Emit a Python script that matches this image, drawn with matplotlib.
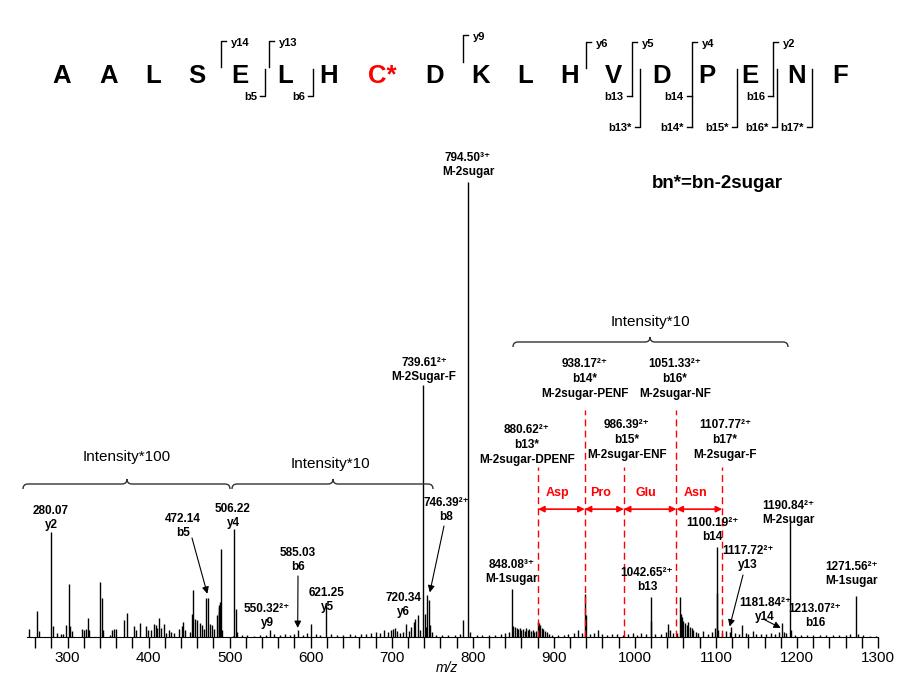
import matplotlib
matplotlib.use('Agg')
import matplotlib.pyplot as plt
from matplotlib.path import Path
from matplotlib.patches import PathPatch
from matplotlib.ticker import MultipleLocator

plt.rcParams['font.family'] = ['Liberation Sans', 'DejaVu Sans']

# ---- spectrum data (m/z, relative intensity in % of base peak) ----
mz = [252, 262.5, 265, 280, 282, 287, 292, 295, 298, 301.6, 303, 305,
      317.7, 319.8, 323, 324.7, 327, 339.5, 342, 343.6, 352.6, 355, 357.6, 360,
      370, 372.8, 381.8, 384.7, 390, 397, 399.6, 402.5, 406.6, 408.6, 410.7,
      413, 415.6, 418.5, 421.8, 425, 428, 431, 438, 440.7, 443, 445, 450.6,
      453.5, 455, 457.6, 460, 463, 465.4, 468, 471, 473.7, 475.7, 478, 481,
      484.3, 486.4, 487, 487.5, 488, 489, 490, 504, 506, 507.4, 509,
      515, 522, 530, 537, 545, 549.5, 555, 562, 568, 574, 579, 584, 590, 595,
      600, 607, 612, 619.5, 625, 632, 640, 648, 655, 662, 668, 675, 680, 686,
      691, 695, 699, 701.6, 704.5, 707, 710, 714, 718, 721, 724, 727, 729,
      732.5, 735, 738.7, 740.7, 742.8, 744, 746, 747.7, 750, 755, 762, 770,
      778, 784, 788, 794.5, 796,
      805, 812, 820, 828, 835, 840, 845, 848.5, 850, 852, 854, 856, 858, 860,
      862, 864, 866, 868, 870, 872, 874, 876, 878, 880, 881.5, 883, 885, 887,
      889, 891, 894, 898, 905, 912, 918, 925, 930, 935, 938.3, 939.5, 945,
      950, 954.7, 960, 966, 972, 978, 985, 992, 998, 1003, 1008, 1014,
      1019.5, 1020.5, 1025, 1032, 1038, 1041, 1043, 1047, 1052, 1055.6, 1057,
      1058.5, 1060, 1062, 1064, 1066, 1068, 1070, 1072, 1075, 1078, 1084,
      1090, 1095, 1098.8, 1100.8, 1101.8, 1103, 1107, 1113, 1117, 1119, 1124,
      1128, 1132, 1137, 1140, 1145.6, 1150, 1156, 1162, 1168, 1173, 1178,
      1182, 1184, 1187, 1191.4, 1193, 1198, 1205, 1212, 1220, 1228, 1236,
      1245, 1252, 1260, 1266, 1272.8, 1275, 1282, 1290, 1297]
intensity = [1.8, 5.7, 1.3, 23.1, 2.4, 0.9, 0.7, 0.7, 2.6, 11.6, 2.4, 1.3,
             1.8, 1.5, 1.8, 4.2, 1.5, 12.1, 8.6, 1.5, 0.4, 1.5, 1.8, 1.8,
             3.7, 5.3, 2.4, 1.5, 3.1, 2.4, 1.5, 1.5, 2.9, 2.6, 2.0,
             4.2, 2.0, 2.9, 0.9, 1.5, 1.1, 0.9, 1.8, 2.4, 3.3, 1.5, 1.1,
             5.1, 10.3, 4.0, 3.7, 3.1, 2.6, 1.8, 8.6, 8.6, 2.9, 2.6, 1.8,
             4.8, 5.5, 6.6, 7.0, 7.7, 19.3, 1.5, 0.3, 23.7, 6.2, 1.1,
             0.4, 0.5, 0.3, 0.4, 0.5, 1.5, 0.6, 0.4, 0.7, 0.5, 0.6, 1.5, 0.5, 0.8,
             2.9, 0.7, 0.5, 7.0, 0.6, 0.5, 0.4, 0.6, 0.5, 0.7, 0.6, 0.8, 1.0, 0.9,
             1.5, 1.1, 1.5, 1.8, 2.0, 1.3, 0.9, 1.1, 2.9, 1.3, 2.2, 3.3, 4.0,
             4.8, 1.5, 55.4, 5.1, 2.2, 9.2, 8.1, 2.6, 1.0, 0.5, 0.4, 0.5,
             0.4, 0.6, 3.7, 100, 1.0,
             0.4, 0.5, 0.4, 0.5, 0.6, 0.8, 1.0, 10.5, 2.5, 2.2, 2.0, 1.8, 2.0, 1.5,
             1.8, 1.3, 2.0, 1.5, 1.8, 1.3, 1.5, 1.0, 1.3, 3.3, 3.1, 2.6, 2.0, 1.8,
             1.3, 1.1, 0.7, 0.5, 0.4, 0.5, 0.6, 0.8, 1.5, 0.9, 9.5, 4.8, 0.6,
             0.8, 1.5, 0.6, 0.5, 0.7, 0.6, 0.5, 0.6, 0.8, 0.5, 0.9, 0.7,
             8.8, 3.5, 0.6, 0.7, 1.0, 2.9, 1.5, 0.8, 0.9, 8.8, 5.0,
             4.4, 3.5, 3.1, 2.6, 3.3, 2.2, 2.0, 1.5, 1.1, 0.8, 1.3,
             0.7, 1.0, 2.0, 19.8, 9.7, 1.5, 0.8, 1.3, 1.1, 2.2, 0.8,
             0.7, 2.6, 0.9, 0.7, 1.3, 0.6, 0.7, 0.6, 0.8, 0.6, 1.0,
             3.1, 1.2, 0.8, 25.3, 1.5, 0.5, 0.4, 0.5, 0.4, 0.4, 0.5,
             0.4, 0.4, 0.5, 0.6, 9.0, 0.7, 0.4, 0.3, 0.3]

# peak labels (text, centre x px, centre y px)
peak_labels = ['280.07\ny2', '472.14\nb5', '506.22\ny4', '585.03\nb6',
               '550.32\u00b2\u207a\ny9', '621.25\ny5', '720.34\ny6',
               '746.39\u00b2\u207a\nb8', '739.61\u00b2\u207a\nM-2Sugar-F',
               '794.50\u00b3\u207a\nM-2sugar', '848.08\u00b3\u207a\nM-1sugar',
               '880.62\u00b2\u207a\nb13*\nM-2sugar-DPENF',
               '938.17\u00b2\u207a\nb14*\nM-2sugar-PENF',
               '1051.33\u00b2\u207a\nb16*\nM-2sugar-NF',
               '986.39\u00b2\u207a\nb15*\nM-2sugar-ENF',
               '1107.77\u00b2\u207a\nb17*\nM-2sugar-F',
               '1042.65\u00b2\u207a\nb13', '1100.19\u00b2\u207a\nb14',
               '1117.72\u00b2\u207a\ny13', '1181.84\u00b2\u207a\ny14',
               '1190.84\u00b2\u207a\nM-2sugar', '1213.07\u00b2\u207a\nb16',
               '1271.56\u00b2\u207a\nM-1sugar']
label_x = [51, 183, 233, 298, 267, 327, 403, 446, 424, 468, 512, 527, 585,
           675, 627, 725, 647, 712, 748, 765, 788, 815, 852]
label_y = [518, 526, 516, 560, 616, 600, 605, 510, 370, 165, 572, 445, 379,
           379, 440, 440, 580, 530, 558, 610, 513, 616, 574]

# black arrows: start (px) -> peak (m/z, %)
arrow_start = [(192, 538), (298, 576), (444, 526), (743, 575), (765, 620)]
arrow_tip = [(472.5, 9.5), (584, 2.0), (747, 9.8), (1117, 2.3), (1180, 2.0)]

# residue losses between b* ions
loss_mz = [880.62, 938.17, 986.39, 1051.33, 1107.77]
loss_top = [37.4, 49.9, 37.4, 49.9, 37.4]
loss_names = ['Asp', 'Pro', 'Glu', 'Asn']

# sequence
residues = ['A', 'A', 'L', 'S', 'E', 'L', 'H', 'C*', 'D', 'K', 'L', 'H', 'V',
            'D', 'P', 'E', 'N', 'F']
residue_x = [62, 109, 153, 197, 240, 285, 329, 382, 435, 481, 525, 570, 613,
             662, 707, 750, 797, 840]
y_ions = ['y14', 'y13', 'y9', 'y6', 'y5', 'y4', 'y2']
y_ion_x = [221, 269, 462.5, 585.7, 631.7, 691.5, 773.3]
y_ion_top = [41, 41, 35, 42, 42, 42, 42]
y_ion_bottom = [67, 67, 62, 68, 96, 127, 96]
b_ions = ['b5', 'b6', 'b13', 'b13*', 'b14', 'b14*', 'b15*', 'b16', 'b16*', 'b17*']
b_ion_x = [265, 312.7, 631.7, 640, 691.5, 691.5, 736.7, 773.3, 776.7, 811.7]
b_ion_top = [69, 69, 96, 69, 96, 127, 69, 96, 69, 69]
b_ion_bottom = [96, 96, 96, 127, 96, 127, 127, 96, 127, 127]

fig = plt.figure(figsize=(9.18, 6.78), dpi=100)
ax = fig.add_axes([27 / 918, 41 / 678, 851 / 918, 455 / 678])
ax.vlines(mz, 0, intensity, color='black', lw=1.0)
ax.set_xlim(250, 1300)
ax.set_ylim(0, 100)
for s in ['left', 'top', 'right']:
    ax.spines[s].set_visible(False)
ax.set_yticks([])
ax.xaxis.set_major_locator(MultipleLocator(100))
ax.xaxis.set_minor_locator(MultipleLocator(20))
ax.tick_params(axis='x', which='both', direction='out', length=8, width=1,
               labelsize=11, pad=2)
ax.patch.set_alpha(0)

# red dashed lines and arrows
for x, t in zip(loss_mz, loss_top):
    ax.plot([x, x], [0, t], color='red', lw=1, ls=(0, (5, 3)), clip_on=False)
for i, name in enumerate(loss_names):
    ax.annotate('', xy=(loss_mz[i + 1], 28.1), xytext=(loss_mz[i], 28.1),
                arrowprops=dict(arrowstyle='<|-|>', color='red', lw=1.2,
                                mutation_scale=9, shrinkA=0, shrinkB=0))
    ax.text((loss_mz[i] + loss_mz[i + 1]) / 2 - 5, 31.6, name, color='red',
            ha='center', va='center', fontsize=9, fontweight='bold')

# overlay in pixel coordinates for annotations
ov = fig.add_axes([0, 0, 1, 1])
ov.set_xlim(0, 918)
ov.set_ylim(678, 0)
ov.axis('off')
ov.patch.set_alpha(0)

for t, x, y in zip(peak_labels, label_x, label_y):
    ov.text(x, y, t, ha='center', va='center', fontsize=8.5,
            fontweight='bold', linespacing=1.3)

for s, tip in zip(arrow_start, arrow_tip):
    ax.annotate('', xy=tip, xycoords='data', xytext=s, textcoords=ov.transData,
                arrowprops=dict(arrowstyle='-|>', color='black', lw=0.8,
                                mutation_scale=10, shrinkA=0, shrinkB=0))


def brace(x0, x1, xm, y, h):
    verts = [(x0, y + h), (x0, y), (x0 + h, y), (xm - h, y), (xm, y),
             (xm, y - h), (xm, y), (xm + h, y), (x1 - h, y), (x1, y),
             (x1, y + h)]
    codes = [Path.MOVETO, Path.CURVE3, Path.CURVE3, Path.LINETO, Path.CURVE3,
             Path.CURVE3, Path.CURVE3, Path.CURVE3, Path.LINETO, Path.CURVE3,
             Path.CURVE3]
    ov.add_patch(PathPatch(Path(verts, codes), fc='none', ec='#333333', lw=1))


brace(23, 230, 127, 484, 5)
brace(232, 433, 333, 484, 5)
brace(513, 788, 650, 342, 5)
ov.text(127, 457, 'Intensity*100', ha='center', va='center', fontsize=11)
ov.text(330, 464, 'Intensity*10', ha='center', va='center', fontsize=11)
ov.text(650, 322, 'Intensity*10', ha='center', va='center', fontsize=11)
ov.text(717, 184, 'bn*=bn-2sugar', ha='center', va='center', fontsize=13.5,
        fontweight='bold')
ov.text(447, 668, 'm/z', ha='center', va='center', fontsize=10,
        style='italic')

# peptide sequence with fragment brackets
for r, x in zip(residues, residue_x):
    ov.text(x, 76, r, ha='center', va='center', fontsize=18.5,
            fontweight='bold', color='red' if r == 'C*' else 'black')
for name, x, t, b in zip(y_ions, y_ion_x, y_ion_top, y_ion_bottom):
    ov.plot([x, x, x + 5], [b, t, t], color='black', lw=1)
    ov.text(x + 10, t + 2, name, ha='left', va='center', fontsize=8,
            fontweight='bold')
for name, x, t, b in zip(b_ions, b_ion_x, b_ion_top, b_ion_bottom):
    ov.plot([x - 5, x, x], [b, b, t], color='black', lw=1)
    ov.text(x - 8, b + 1, name, ha='right', va='center', fontsize=8,
            fontweight='bold')

fig.savefig('out.png', dpi=100)
